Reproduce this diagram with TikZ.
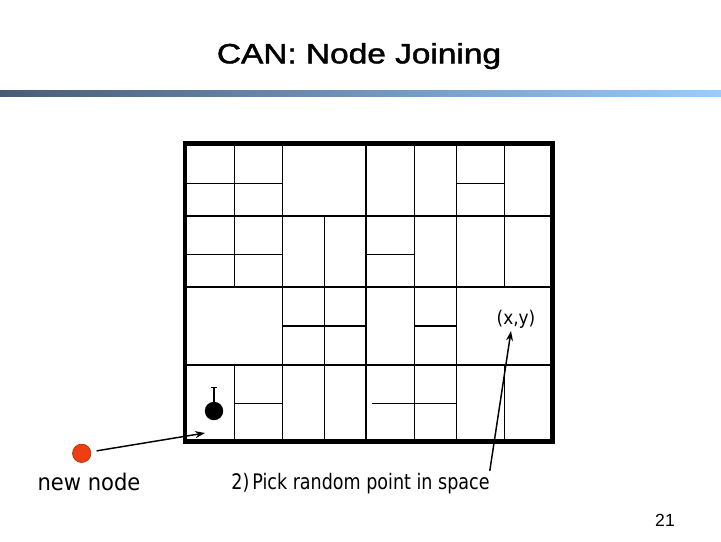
\documentclass[tikz,border=0pt]{standalone}
\usepackage{fontspec}
\setmainfont{Liberation Sans}
\newfontfamily\verdanafont{DejaVu Sans}
\newfontfamily\titlefont[FakeBold=1.5]{Liberation Sans}
\usetikzlibrary{
  arrows.meta,
  calc,
}
\definecolor{barleft}{RGB}{72,92,118}
\definecolor{barright}{RGB}{153,204,255}
\definecolor{peerred}{RGB}{240,62,20}
\definecolor{peeredge}{RGB}{165,40,10}
\tikzset{
  zoneline/.style={line width=0.95pt, black},
  zoneframe/.style={line width=3.3pt, black},
  peerdot/.style={
    circle, minimum size=0.46cm, inner sep=0pt
  },
  newpeerdot/.style={peerdot, fill=peerred, draw=peeredge, thin},
  joinpeerdot/.style={peerdot, fill=black},
  pointer/.style={-{Stealth[length=7pt, width=5pt]}, line width=1.05pt, black},
  bartip/.style={-{Bar[width=4.5pt]}, line width=1.2pt, black},
  slidetitle/.style={
    font=\titlefont\fontsize{19.8pt}{24pt}\selectfont, inner sep=0pt, anchor=base,
    xscale=1.2, transform shape
  },
  caption/.style={
    font=\verdanafont\fontsize{16.3pt}{19pt}\selectfont, inner sep=0pt, anchor=base,
    xscale=0.92, transform shape
  },
  steplabel/.style={
    font=\verdanafont\fontsize{15.2pt}{18pt}\selectfont, inner sep=0pt, anchor=base,
    xscale=0.82, transform shape
  },
  pointlabel/.style={
    font=\verdanafont\fontsize{13.4pt}{16pt}\selectfont, inner sep=0pt, anchor=base,
    xscale=0.9, transform shape
  },
}

\begin{document}
\begin{tikzpicture}[x=0.025cm, y=-0.025cm]

  \useasboundingbox (0,0) rectangle (721,541);

  % ── Title and bar ──
  \node[slidetitle] (title) at (359,63.3) {CAN: Node Joining};
  \shade[left color=barleft, right color=barright] (0,90) rectangle (721,96.7);

  % ── Zones: vertical splits ──
  \foreach \x/\ya/\yb in {234.3/143.5/287, 234.3/365/441.5,
                          282.3/143.5/441.5, 324.3/216/441.5,
                          366/143.5/441.5, 414.3/143.5/441.5,
                          456.7/143.5/441.5,
                          504.3/143.5/287, 504.3/365/441.5} {
    \draw[zoneline] (\x,\ya) -- (\x,\yb);
  }

  % ── Zones: horizontal splits ──
  \foreach \y/\xa/\xb in {183.3/185/282.3, 183.3/456.7/504.3,
                          216/185/552.7,
                          254.3/185/282.3, 254.3/366/414.3,
                          287/185/552.7,
                          326/282.3/366, 326/414.3/456.7,
                          365/185/552.7,
                          403.3/234.3/282.3, 403.3/372/456.7} {
    \draw[zoneline] (\xa,\y) -- (\xb,\y);
  }

  % ── Coordinate space frame ──
  \draw[zoneframe] (185,143.5) rectangle (552.7,441.5);

  % ── Joining node ──
  \node[joinpeerdot] (joinpeer) at (214,411) {};
  \coordinate (joinbar) at (214,386.7);
  \draw[bartip] (joinpeer.north) -- (joinbar);

  % ── New node ──
  \node[newpeerdot] (newpeer) at (81.7,453.3) {};
  \node[caption] (newlabel) at (89,490) {new node};
  \coordinate (entry) at (205,433);
  \draw[pointer, shorten <=4pt] (newpeer) -- (entry);

  % ── Random point ──
  \node[pointlabel] (xy) at (516,324) {(x,y)};
  \node[steplabel] (pick) at (360.5,489.3) {2)\,Pick random point in space};
  \coordinate (randpt) at (511,331);
  \draw[pointer] ($(pick.north east)+(0,-2)$) -- (randpt);

  % ── Page number ──
  \node[font=\fontsize{12.5pt}{15pt}\selectfont, inner sep=0pt, anchor=base] (pagenum)
    at (665,526.7) {21};

\end{tikzpicture}
\end{document}
